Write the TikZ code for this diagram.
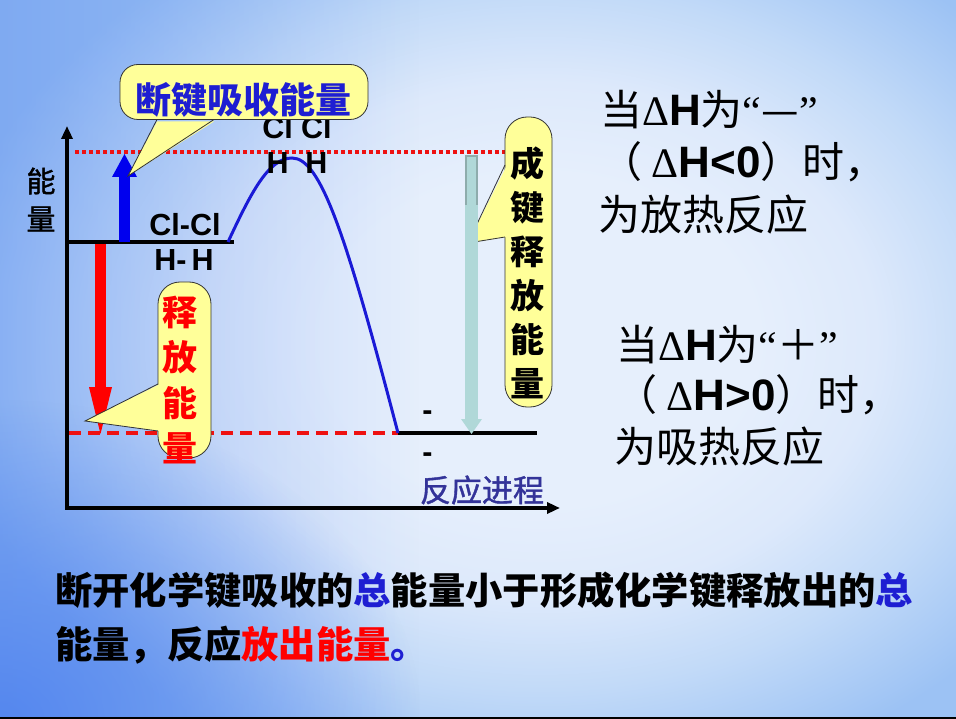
\documentclass[tikz,border=0pt]{standalone}
\usepackage{fontspec}
\setmainfont{Liberation Sans}
\newfontfamily\cjk{Noto Sans CJK SC}
\newfontfamily\cjkmed[FakeBold=1.3]{Noto Sans CJK SC}
\newfontfamily\latser{Liberation Serif}
\newfontfamily\latf{Liberation Sans}
\usetikzlibrary{arrows.meta,fadings}
\definecolor{bg0}{HTML}{E6EFFC}
\definecolor{bg1}{HTML}{DDE9FB}
\definecolor{bg2}{HTML}{C2DAF8}
\definecolor{bg3}{HTML}{9CC2F4}
\definecolor{bgdeep}{HTML}{4A7EEE}
\definecolor{callfill}{HTML}{FFFF99}
\definecolor{arrblue}{HTML}{0000EE}
\definecolor{curveblue}{HTML}{1A1AD6}
\definecolor{txtblue}{HTML}{1E1ED2}
\definecolor{procblue}{HTML}{333399}
\definecolor{tealA}{HTML}{B0D8D8}
\definecolor{tealB}{HTML}{8EACAC}
\definecolor{dotred}{HTML}{EE1111}
\pgfdeclareradialshading{slidebg}{\pgfpointorigin}{color(0bp)=(bg0); color(9bp)=(bg0); color(14bp)=(bg1); color(19bp)=(bg2); color(25bp)=(bg3); color(50bp)=(bg3)}
\tikzfading[name=fadeleft, left color=transparent!65, right color=transparent!100]
\tikzfading[name=fadecorner, inner color=transparent!20, outer color=transparent!100]
\newcommand\myDH[1]{{\latser Δ}{\latf\bfseries\fontsize{44}{44}\selectfont #1}}
\newcommand\myLQ{{\latser “}}
\newcommand\myRQ{{\latser ”}}
\begin{document}
\begin{tikzpicture}[x=1pt,y=-1pt,
  callbox/.style={draw=black!80, line width=0.8pt, fill=callfill, inner sep=0pt},
  callline/.style={draw=black!80, line width=0.8pt},
  level/.style={line width=4pt},
  axis/.style={line width=4pt, -{Triangle[length=13pt,width=11pt]}},
  chem/.style={font=\latf\bfseries\fontsize{30.5}{32}\selectfont, inner sep=0pt},
  cjktext/.style={font=\cjkmed\fontsize{#1}{#1}\selectfont, inner sep=0pt},
  rtext/.style={font=\cjk\fontsize{42}{42}\selectfont, inner sep=0pt, anchor=west},
  btext/.style={font=\cjk\bfseries\fontsize{37.3}{37.3}\selectfont, inner sep=0pt, anchor=west}
]
\useasboundingbox (0,0) rectangle (956,719);
% background
\begin{scope}
\clip (0,0) rectangle (956,719);
\shade[shading=slidebg] (-60,-120) rectangle (1140,800);
\fill[bgdeep, path fading=fadeleft] (0,0) rectangle (420,719);
\fill[bgdeep, path fading=fadecorner] (-420,400) rectangle (420,1040);
\fill[black] (0,716.5) rectangle (956,719);
\end{scope}

% reference lines
\coordinate (dotL) at (75,152);
\coordinate (dotR) at (506,152);
\draw[dotred, line width=3.5pt, dash pattern=on 4pt off 3pt] (dotL) -- (dotR);
\coordinate (dashL) at (69,433);
\coordinate (lowL) at (398,433);
\coordinate (lowR) at (537,433);
\draw[dotred, line width=3.5pt, dash pattern=on 12pt off 7pt] (dashL) -- (lowL);

% axes
\coordinate (O) at (67,508);
\coordinate (ytop) at (67,126);
\coordinate (xend) at (560,508);
\draw[axis] (O) -- (ytop);
\draw[axis] ([xshift=-2pt]O) -- (xend);

% levels
\coordinate (upL) at (67,242);
\coordinate (upR) at (234,242);
\draw[level] (upL) -- (upR);
\draw[level] (lowL) -- (lowR);

% curve
\coordinate (cs) at (228,242);
\coordinate (peak) at (292,158);
\draw[curveblue, line width=3pt] (cs) .. controls (250,195) and (268,158) .. (peak)
   .. controls (320,158) and (345,230) .. (lowL);

% chemistry labels
\node[chem] (clcl1) at (185,225) {Cl-Cl};
\node[chem] (hh1) at (184,260) {H-\,H};
\node[chem] (clcl2) at (297,128) {Cl Cl};
\node[chem] (hh2) at (297,163) {H\ \ H};

% axis label
\node[cjktext=29] (ylab1) at (41,181) {能};
\node[cjktext=29] (ylab2) at (41,219) {量};

% blue arrow up
\coordinate (bA) at (124.5,242);
\coordinate (bT) at (124.5,154);
\fill[arrblue] (119,242) rectangle (130,176);
\fill[arrblue] (112,177) -- (bT) -- (137,177) -- cycle;

% red arrow down
\coordinate (rA) at (100.5,244);
\coordinate (rT) at (100.5,434);
\fill[red] (95,244) rectangle (106,388);
\fill[red] (89,387) -- (rT) -- (112,387) -- cycle;

% callout 1
\node[callbox, rounded corners=18pt, minimum width=248pt, minimum height=55pt] (cb1) at (244,92) {};
\coordinate (p1a) at (157,119.5);
\coordinate (p1t) at (128,176);
\coordinate (p1b) at (214,119.5);
\fill[callfill] ([yshift=-2pt]p1a) -- (p1t) -- ([yshift=-2pt]p1b) -- cycle;
\draw[callline] (p1a) -- (p1t) -- (p1b);
\node[font=\cjk\bfseries\fontsize{36}{36}\selectfont, text=txtblue, inner sep=0pt] (t1) at (243,100) {断键吸收能量};

% callout 2
\node[callbox, rounded corners=22pt, minimum width=53pt, minimum height=176pt] (cb2) at (184.5,370) {};
\coordinate (p2a) at (158,384);
\coordinate (p2t) at (85,421);
\coordinate (p2b) at (158,431);
\fill[callfill] ([xshift=2pt]p2a) -- (p2t) -- ([xshift=2pt]p2b) -- cycle;
\draw[callline] (p2a) -- (p2t) -- (p2b);
\node[font=\cjk\bfseries\fontsize{35}{45.3}\selectfont, text=red, inner sep=0pt, align=center] (t2) at (180,380) {释\\放\\能\\量};

% callout 3
\node[callbox, rounded corners=22pt, minimum width=47pt, minimum height=290pt] (cb3) at (528.5,262) {};
\coordinate (p3a) at (505,165);
\coordinate (p3t) at (468,243);
\coordinate (p3b) at (505,237);
\fill[callfill] ([xshift=2pt]p3a) -- (p3t) -- ([xshift=2pt]p3b) -- cycle;
\draw[callline] (p3a) -- (p3t) -- (p3b);
\node[font=\cjk\bfseries\fontsize{34}{44}\selectfont, text=black, inner sep=0pt, align=center] (t3) at (527,273) {成\\键\\释\\放\\能\\量};

% teal arrow
\coordinate (gA) at (471.5,155);
\coordinate (gT) at (471.5,434);
\fill[tealA] (465,155) rectangle (478,421);
\fill[tealA] (461,419) -- (gT) -- (482,419) -- cycle;
\draw[tealB, line width=1.6pt] (465.8,205) -- (465.8,155.8) -- (477.2,155.8) -- (477.2,205);

% small marks
\node[chem] (m1) at (427.5,416) {-};
\node[chem] (m2) at (427.5,458) {-};

% process label
\node[cjktext=31, text=procblue] (proc) at (482,490) {反应进程};

% right texts
\node[rtext] (r1) at (600,110) {当\myDH{H}为\myLQ—\myRQ};
\node[rtext] (r2) at (600,162) {（ \myDH{H<0}）时，};
\node[rtext] (r3) at (598,215) {为放热反应};
\node[rtext] (r4) at (616,345) {当\myDH{H}为\myLQ＋\myRQ};
\node[rtext] (r5) at (615,395) {（ \myDH{H>0}）时，};
\node[rtext] (r6) at (614,447) {为吸热反应};

% bottom texts
\node[btext] (b1) at (55,590) {断开化学键吸收的\textcolor{txtblue}{总}能量小于形成化学键释放出的\textcolor{txtblue}{总}};
\node[btext] (b2) at (55,645) {能量，反应\textcolor{red}{放出能量}\textcolor{txtblue}{。}};
\end{tikzpicture}
\end{document}
